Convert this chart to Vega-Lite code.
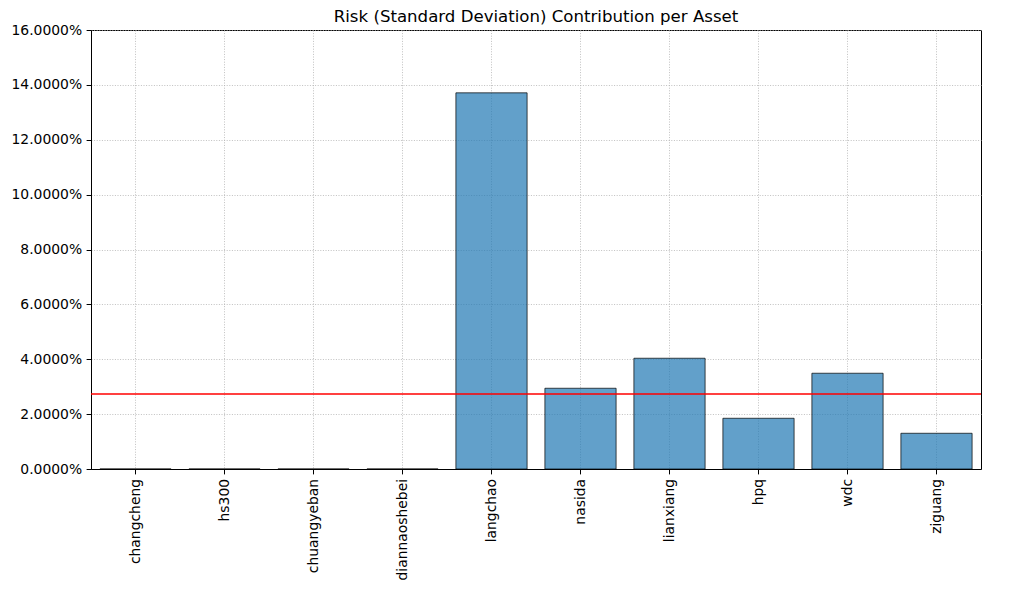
{
  "$schema": "https://vega.github.io/schema/vega-lite/v6.json",
  "width": 890,
  "height": 439,
  "autosize": {"type": "none"},
  "padding": {"left": 91, "top": 30, "right": 33, "bottom": 121},
  "background": "white",
  "title": {
    "text": "Risk (Standard Deviation) Contribution per Asset",
    "fontSize": 16.6,
    "font": "DejaVu Sans",
    "fontWeight": "normal",
    "color": "black",
    "offset": 7,
    "dy": 9.5,
    "anchor": "middle"
  },
  "data": {
    "values": [
      {"asset": "changcheng", "risk": 0.0},
      {"asset": "hs300", "risk": 0.0},
      {"asset": "chuangyeban", "risk": 0.0},
      {"asset": "diannaoshebei", "risk": 0.0},
      {"asset": "langchao", "risk": 0.1371},
      {"asset": "nasida", "risk": 0.02943},
      {"asset": "lianxiang", "risk": 0.04037},
      {"asset": "hpq", "risk": 0.01849},
      {"asset": "wdc", "risk": 0.0349},
      {"asset": "ziguang", "risk": 0.01302}
    ]
  },
  "layer": [
    {
      "mark": {
        "type": "bar",
        "fill": "#1f77b4",
        "fillOpacity": 0.7,
        "stroke": "black",
        "strokeOpacity": 0.7,
        "strokeWidth": 1
      },
      "encoding": {
        "x": {
          "field": "asset",
          "type": "nominal",
          "sort": null,
          "title": null,
          "scale": {"paddingInner": 0.2, "paddingOuter": 0.1},
          "axis": {
            "labelAngle": -90,
            "labelAlign": "right",
            "labelBaseline": "middle",
            "bandPosition": 0.5,
            "grid": true,
            "labelPadding": 4.5
          }
        },
        "y": {
          "field": "risk",
          "type": "quantitative",
          "title": null,
          "scale": {"domain": [0, 0.16], "nice": false, "zero": true},
          "axis": {
            "format": ".4%",
            "values": [0, 0.02, 0.04, 0.06, 0.08, 0.1, 0.12, 0.14, 0.16],
            "grid": true,
            "labelPadding": 4.5
          }
        }
      }
    },
    {
      "mark": {"type": "rule", "color": "red", "strokeWidth": 1.5},
      "encoding": {
        "y": {"aggregate": "mean", "field": "risk", "type": "quantitative"}
      }
    }
  ],
  "config": {
    "font": "DejaVu Sans",
    "view": {"stroke": "black", "strokeWidth": 1},
    "axis": {
      "labelFont": "DejaVu Sans",
      "labelFontSize": 13.9,
      "labelColor": "black",
      "domainColor": "black",
      "domainWidth": 1,
      "tickColor": "black",
      "tickSize": 4.9,
      "tickWidth": 1,
      "gridColor": "#b0b0b0",
      "gridDash": [1, 1.6],
      "gridWidth": 0.8,
      "gridOpacity": 1
    }
  }
}
